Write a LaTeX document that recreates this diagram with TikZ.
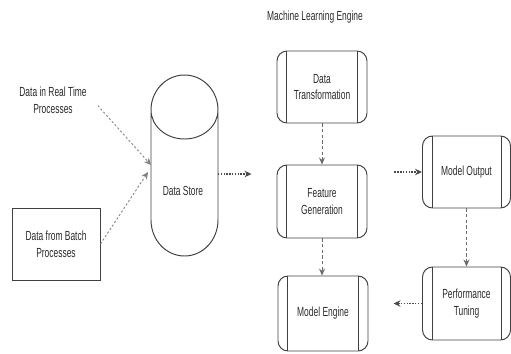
\documentclass[tikz,border=0pt]{standalone}
\usepackage{fontspec}
\setmainfont{Liberation Sans}[FakeStretch=0.64]
\usetikzlibrary{arrows.meta,positioning,calc}
\definecolor{ink}{HTML}{2B2B2B}
\definecolor{edge}{HTML}{404040}
\definecolor{muted}{HTML}{808080}

\begin{document}
\begin{tikzpicture}[
  font=\fontsize{7.5}{9.6}\selectfont,
  >=Stealth,
  proc/.style={rounded corners=2mm, draw=edge, line width=0.55pt, text=ink,
               minimum width=1.80cm, minimum height=1.44cm, align=center,
               path picture={
                 \draw[edge, line width=0.55pt]
                   ([xshift=1.9mm]path picture bounding box.north west) --
                   ([xshift=1.9mm]path picture bounding box.south west)
                   ([xshift=-1.9mm]path picture bounding box.north east) --
                   ([xshift=-1.9mm]path picture bounding box.south east);}},
  batchbox/.style={draw=edge, line width=0.55pt, text=ink, align=center,
                   minimum width=1.76cm, minimum height=1.44cm},
  label/.style={text=ink, align=center},
  feed/.style={-{Stealth[length=1.4mm,width=1.3mm]}, line width=0.5pt,
               draw=muted, dash pattern=on 1.2pt off 1.2pt},
  dots/.style={-{Stealth[length=1.4mm,width=1.3mm]}, line width=0.6pt,
               draw=ink!85, dash pattern=on 0.8pt off 0.8pt},
  down/.style={-{Stealth[length=1.4mm,width=1.2mm]}, line width=0.5pt,
               draw=ink!70, dash pattern=on 1.8pt off 1.4pt}
]
\useasboundingbox (0,0) rectangle (10.22,7.06);

\node[label] (title) at (6.30,6.72) {Machine Learning Engine};

% inputs
\node[label] (realtime) at (1.06,5.06) {Data in Real Time\\Processes};
\node[batchbox] (batch) at (1.12,2.18) {Data from Batch\\Processes};

% data store cylinder
\draw[edge, line width=0.55pt]
  (3.02,4.86) arc[start angle=180, end angle=0, x radius=0.67cm, y radius=0.70cm]
  arc[start angle=0, end angle=-180, x radius=0.67cm, y radius=0.58cm]
  -- (3.02,2.66)
  arc[start angle=180, end angle=360, x radius=0.67cm, y radius=0.72cm]
  -- (4.36,4.86);
\node[label] (store) at (3.66,3.24) {Data Store};
\coordinate (storein1) at (3.02,3.76);
\coordinate (storein2) at (2.96,3.62);
\coordinate (storeout) at (4.36,3.58);

% machine learning engine
\node[proc] (transform) at (6.44,5.32) {Data\\Transformation};
\node[proc, minimum height=1.46cm] (feature) at (6.44,3.03) {Feature\\Generation};
\node[proc, minimum height=1.50cm] (engine) at (6.46,0.79) {Model Engine};
\node[proc, minimum width=1.76cm] (output) at (9.33,3.62) {Model Output};
\node[proc, minimum width=1.76cm, minimum height=1.46cm] (tuning) at (9.33,0.99) {Performance\\Tuning};

\draw[feed, shorten <=1.5mm] (realtime.east) -- (storein1);
\draw[feed] (batch.east) -- (storein2);
\draw[dots, shorten >=5mm] (storeout) -- (feature.west |- storeout);
\draw[down] (transform) -- (feature);
\draw[down] (feature) -- (feature |- engine.north);
\draw[dots, shorten <=5.4mm] (feature.east |- output.west) -- (output.west);
\draw[down] (output) -- (tuning);
\draw[dots, shorten >=5mm] (tuning.west) -- (engine.east |- tuning.west);

\end{tikzpicture}
\end{document}
